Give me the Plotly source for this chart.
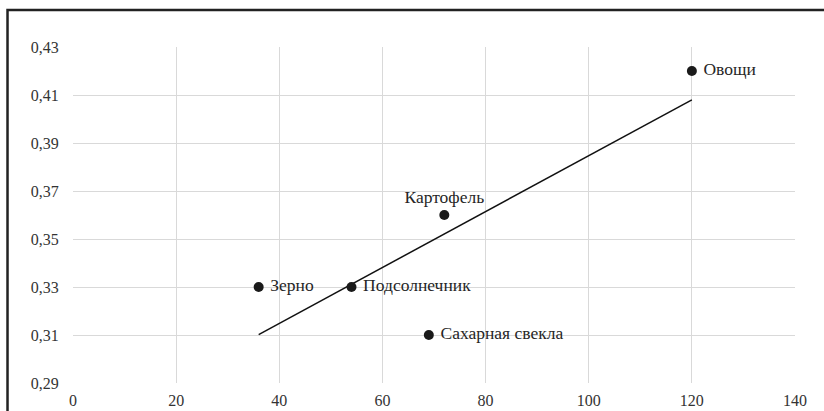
import numpy as np
import plotly.graph_objects as go

names = ["Зерно", "Подсолнечник", "Картофель", "Сахарная свекла", "Овощи"]
x_vals = [36, 54, 72, 69, 120]
y_vals = [0.33, 0.33, 0.36, 0.31, 0.42]
positions = ["middle right", "middle right", "top center", "middle right", "middle right"]
x_ticks = [0, 20, 40, 60, 80, 100, 120, 140]
y_ticks = [0.29, 0.31, 0.33, 0.35, 0.37, 0.39, 0.41, 0.43]
y_tick_text = ["0,29", "0,31", "0,33", "0,35", "0,37", "0,39", "0,41", "0,43"]

# linear trendline (least squares) over data range
slope, intercept = np.polyfit(x_vals, y_vals, 1)
tx = [min(x_vals), max(x_vals)]
ty = [slope * v + intercept for v in tx]

FONT = "Liberation Serif, Times New Roman, DejaVu Serif, serif"

fig = go.Figure()
fig.add_trace(go.Scatter(x=tx, y=ty, mode="lines",
                         line=dict(color="#111111", width=1.5),
                         hoverinfo="skip", showlegend=False))
fig.add_trace(go.Scatter(x=x_vals, y=y_vals, mode="markers+text",
                         text=[" " + n if p.startswith("middle") else n for n, p in zip(names, positions)],
                         textposition=positions,
                         textfont=dict(family=FONT, size=17.5, color="#262626"),
                         marker=dict(color="#1a1a1a", size=10),
                         showlegend=False))

fig.update_layout(
    width=824, height=411,
    margin=dict(l=73, r=29, t=47, b=28, autoexpand=False),
    paper_bgcolor="white", plot_bgcolor="white",
    font=dict(family=FONT, size=16, color="#333333"),
    xaxis=dict(range=[0, 140], tickvals=x_ticks, showgrid=True, gridcolor="#d9d9d9",
               gridwidth=1, zeroline=False, showline=False, automargin=False,
               ticks="outside", ticklen=3, tickcolor="rgba(0,0,0,0)",
               tickfont=dict(family=FONT, size=16, color="#333333")),
    yaxis=dict(range=[0.29, 0.43], tickvals=y_ticks, ticktext=y_tick_text,
               showgrid=True, gridcolor="#d9d9d9", gridwidth=1, zeroline=False,
               showline=False, automargin=False,
               ticks="outside", ticklen=10, tickcolor="rgba(0,0,0,0)",
               tickfont=dict(family=FONT, size=16, color="#333333")),
    shapes=[
        dict(type="rect", xref="paper", yref="paper", x0=-0.0907, x1=2, y0=-2, y1=1.110,
             line=dict(color="#222222", width=2.5), layer="above"),
    ],
)

fig.write_html("out.html", config={"displayModeBar": False},
               post_script="document.body.style.margin='0';document.body.style.overflow='hidden';")
